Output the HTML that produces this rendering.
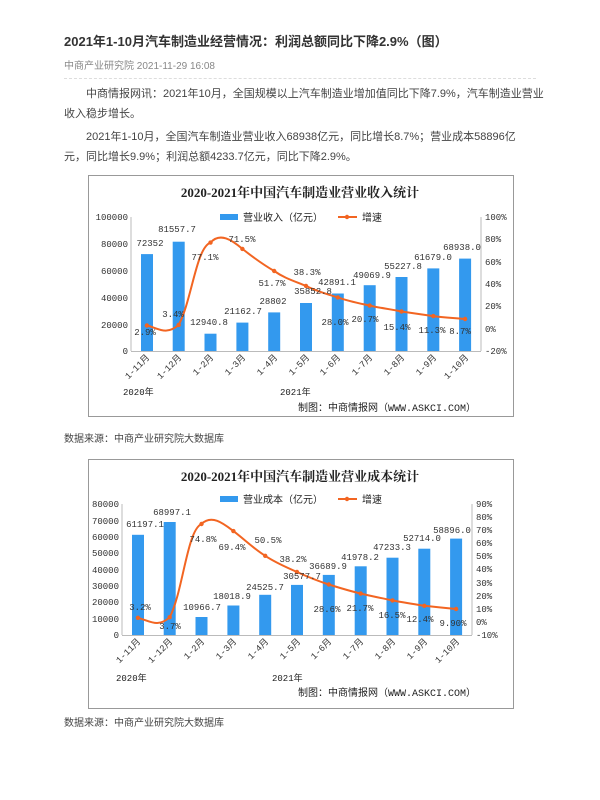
<!DOCTYPE html>
<html><head><meta charset="utf-8"><style>
body{margin:0;width:600px;height:800px;background:#fff;position:relative;overflow:hidden;font-family:"Liberation Sans","Noto Sans CJK SC",sans-serif;}
.a{position:absolute;white-space:nowrap;}
svg text{font-family:"Liberation Mono","Noto Sans CJK SC",monospace;}
</style></head><body>
<div class="a" style="left:64px;top:31px;font-size:13px;font-weight:bold;color:#333;">2021年1-10月汽车制造业经营情况：利润总额同比下降2.9%（图）</div>
<div class="a" style="left:64px;top:57px;font-size:10px;color:#888;">中商产业研究院 2021-11-29 16:08</div>
<div class="a" style="left:64px;top:78px;width:472px;border-top:1px dashed #ddd;"></div>
<div class="a" style="left:64px;top:84px;font-size:11px;color:#444;line-height:20px;">　　中商情报网讯：2021年10月，全国规模以上汽车制造业增加值同比下降7.9%，汽车制造业营业<br>收入稳步增长。</div>
<div class="a" style="left:64px;top:127px;font-size:11px;color:#444;line-height:20px;">　　2021年1-10月，全国汽车制造业营业收入68938亿元，同比增长8.7%；营业成本58896亿<br>元，同比增长9.9%；利润总额4233.7亿元，同比下降2.9%。</div>
<div class="a" style="left:64px;top:430px;font-size:10px;color:#444;">数据来源：中商产业研究院大数据库</div>
<div class="a" style="left:64px;top:714px;font-size:10px;color:#444;">数据来源：中商产业研究院大数据库</div>

<svg class="a" style="left:0;top:0" width="600" height="800">
<!-- chart 1 -->
<rect x="88.5" y="175.5" width="425" height="241" fill="#fff" stroke="#999"/>
<text x="300" y="197" text-anchor="middle" font-size="13" font-weight="bold" style="font-family:'Liberation Serif','Noto Serif CJK SC',serif" fill="#222">2020-2021年中国汽车制造业营业收入统计</text>
<rect x="220" y="214" width="18" height="6" fill="#3399ee"/>
<text x="243" y="221" font-size="10" fill="#222" style="font-family:'Liberation Sans','Noto Sans CJK SC',sans-serif">营业收入（亿元）</text>
<line x1="338" y1="217" x2="357" y2="217" stroke="#f26522" stroke-width="2"/><circle cx="347" cy="217" r="2.2" fill="#f26522"/>
<text x="362" y="221" font-size="10" fill="#222" style="font-family:'Liberation Sans','Noto Sans CJK SC',sans-serif">增速</text>
<g stroke="#bbb" stroke-width="1"><line x1="131" y1="217" x2="131" y2="351"/><line x1="481" y1="217" x2="481" y2="351"/><line x1="131" y1="351.5" x2="481" y2="351.5"/></g>
<g font-size="9" fill="#333" text-anchor="end">
<text x="128" y="220">100000</text><text x="128" y="247">80000</text><text x="128" y="274">60000</text><text x="128" y="301">40000</text><text x="128" y="328">20000</text><text x="128" y="354">0</text></g>
<g font-size="9" fill="#333">
<text x="485" y="220">100%</text><text x="485" y="242">80%</text><text x="485" y="265">60%</text><text x="485" y="287">40%</text><text x="485" y="309">20%</text><text x="485" y="332">0%</text><text x="485" y="354">-20%</text></g>
<g fill="#3399ee">
<rect x="141" y="254.1" width="12" height="96.9"/><rect x="172.7" y="241.7" width="12" height="109.3"/><rect x="204.5" y="333.7" width="12" height="17.3"/><rect x="236.4" y="322.6" width="12" height="28.4"/><rect x="268.2" y="312.4" width="12" height="38.6"/><rect x="300" y="303" width="12" height="48"/><rect x="331.8" y="293.5" width="12" height="57.5"/><rect x="363.7" y="285.2" width="12" height="65.8"/><rect x="395.5" y="277" width="12" height="74"/><rect x="427.3" y="268.4" width="12" height="82.6"/><rect x="459.1" y="258.6" width="12" height="92.4"/></g>
<path d="M146.9,325.5 C158,328 166,336 178.7,324.9 C192,300 196,248 210.5,242.6 C220,232 232,240 242.4,248.9 C254,258 262,264 274.2,271 C284,278 294,281 306,285.9 C316,291 326,294 337.8,297.4 C348,301 358,303 369.7,305.6 C380,308 390,309 401.5,311.5 C412,313 422,314.5 433.3,316.1 C444,317.5 454,318 465.1,319" fill="none" stroke="#f26522" stroke-width="2"/>
<g fill="#f26522"><circle cx="146.9" cy="325.5" r="2.2"/><circle cx="178.7" cy="324.9" r="2.2"/><circle cx="210.5" cy="242.6" r="2.2"/><circle cx="242.4" cy="248.9" r="2.2"/><circle cx="274.2" cy="271" r="2.2"/><circle cx="306" cy="285.9" r="2.2"/><circle cx="337.8" cy="297.4" r="2.2"/><circle cx="369.7" cy="305.6" r="2.2"/><circle cx="401.5" cy="311.5" r="2.2"/><circle cx="433.3" cy="316.1" r="2.2"/><circle cx="465.1" cy="319" r="2.2"/></g>
<g font-size="9" fill="#333" text-anchor="middle">
<text x="150" y="246">72352</text><text x="177" y="232">81557.7</text><text x="209" y="325">12940.8</text><text x="243" y="314">21162.7</text><text x="273" y="304">28802</text><text x="313" y="294">35852.8</text><text x="337" y="285">42891.1</text><text x="372" y="278">49069.9</text><text x="403" y="269">55227.8</text><text x="433" y="260">61679.0</text><text x="462" y="250">68938.0</text>
<text x="145" y="335">2.9%</text><text x="173" y="317">3.4%</text><text x="205" y="260">77.1%</text><text x="242" y="242">71.5%</text><text x="272" y="286">51.7%</text><text x="307" y="275">38.3%</text><text x="335" y="325">28.0%</text><text x="365" y="322">20.7%</text><text x="397" y="330">15.4%</text><text x="432" y="333">11.3%</text><text x="460" y="334">8.7%</text></g>
<g font-size="9" fill="#333" text-anchor="end">
<text transform="translate(150,358) rotate(-45)">1-11月</text><text transform="translate(182,358) rotate(-45)">1-12月</text><text transform="translate(214,358) rotate(-45)">1-2月</text><text transform="translate(246,358) rotate(-45)">1-3月</text><text transform="translate(278,358) rotate(-45)">1-4月</text><text transform="translate(310,358) rotate(-45)">1-5月</text><text transform="translate(341,358) rotate(-45)">1-6月</text><text transform="translate(373,358) rotate(-45)">1-7月</text><text transform="translate(405,358) rotate(-45)">1-8月</text><text transform="translate(437,358) rotate(-45)">1-9月</text><text transform="translate(469,358) rotate(-45)">1-10月</text></g>
<g font-size="9" fill="#222" style="font-family:'Liberation Sans','Noto Sans CJK SC',sans-serif">
<text x="123" y="395">2020年</text><text x="280" y="395">2021年</text><text x="298" y="411" font-size="10">制图：中商情报网（WWW.ASKCI.COM）</text></g>

<!-- chart 2 -->
<rect x="88.5" y="459.5" width="425" height="249" fill="none" stroke="#999"/>
<text x="300" y="481" text-anchor="middle" font-size="13" font-weight="bold" style="font-family:'Liberation Serif','Noto Serif CJK SC',serif" fill="#222">2020-2021年中国汽车制造业营业成本统计</text>
<rect x="220" y="496" width="18" height="6" fill="#3399ee"/>
<text x="243" y="503" font-size="10" fill="#222" style="font-family:'Liberation Sans','Noto Sans CJK SC',sans-serif">营业成本（亿元）</text>
<line x1="338" y1="499" x2="357" y2="499" stroke="#f26522" stroke-width="2"/><circle cx="347" cy="499" r="2.2" fill="#f26522"/>
<text x="362" y="503" font-size="10" fill="#222" style="font-family:'Liberation Sans','Noto Sans CJK SC',sans-serif">增速</text>
<g stroke="#bbb" stroke-width="1"><line x1="122" y1="504" x2="122" y2="635"/><line x1="472" y1="504" x2="472" y2="635"/><line x1="122" y1="635.5" x2="472" y2="635.5"/></g>
<g font-size="9" fill="#333" text-anchor="end">
<text x="119" y="507">80000</text><text x="119" y="524">70000</text><text x="119" y="540">60000</text><text x="119" y="556">50000</text><text x="119" y="573">40000</text><text x="119" y="589">30000</text><text x="119" y="605">20000</text><text x="119" y="622">10000</text><text x="119" y="638">0</text></g>
<g font-size="9" fill="#333">
<text x="476" y="507">90%</text><text x="476" y="520">80%</text><text x="476" y="533">70%</text><text x="476" y="546">60%</text><text x="476" y="559">50%</text><text x="476" y="572">40%</text><text x="476" y="586">30%</text><text x="476" y="599">20%</text><text x="476" y="612">10%</text><text x="476" y="625">0%</text><text x="476" y="638">-10%</text></g>
<g fill="#3399ee">
<rect x="132" y="534.8" width="12" height="100.2"/><rect x="163.7" y="522" width="12" height="113"/><rect x="195.5" y="617" width="12" height="18"/><rect x="227.4" y="605.5" width="12" height="29.5"/><rect x="259.2" y="594.8" width="12" height="40.2"/><rect x="291" y="584.9" width="12" height="50.1"/><rect x="322.8" y="574.9" width="12" height="60.1"/><rect x="354.7" y="566.3" width="12" height="68.7"/><rect x="386.5" y="557.7" width="12" height="77.3"/><rect x="418.3" y="548.7" width="12" height="86.3"/><rect x="450.1" y="538.6" width="12" height="96.4"/></g>
<path d="M137.9,617.8 C150,621 158,628 169.7,617.2 C183,592 187,530 201.5,524 C212,514 224,524 233.4,531.1 C244,539 254,549 265.2,555.8 C276,563 286,567 297,572 C308,577 318,581 328.8,584.5 C340,588 350,591 360.7,593.6 C371,596 381,598 392.5,600.4 C403,602.5 413,604 424.3,605.8 C435,607 445,608 456.1,609" fill="none" stroke="#f26522" stroke-width="2"/>
<g fill="#f26522"><circle cx="137.9" cy="617.8" r="2.2"/><circle cx="169.7" cy="617.2" r="2.2"/><circle cx="201.5" cy="524" r="2.2"/><circle cx="233.4" cy="531.1" r="2.2"/><circle cx="265.2" cy="555.8" r="2.2"/><circle cx="297" cy="572" r="2.2"/><circle cx="328.8" cy="584.5" r="2.2"/><circle cx="360.7" cy="593.6" r="2.2"/><circle cx="392.5" cy="600.4" r="2.2"/><circle cx="424.3" cy="605.8" r="2.2"/><circle cx="456.1" cy="609" r="2.2"/></g>
<g font-size="9" fill="#333" text-anchor="middle">
<text x="145" y="527">61197.1</text><text x="172" y="515">68997.1</text><text x="202" y="610">10966.7</text><text x="232" y="599">18018.9</text><text x="265" y="590">24525.7</text><text x="302" y="579">30577.7</text><text x="328" y="569">36689.9</text><text x="360" y="560">41978.2</text><text x="392" y="550">47233.3</text><text x="422" y="541">52714.0</text><text x="452" y="533">58896.0</text>
<text x="140" y="610">3.2%</text><text x="170" y="629">3.7%</text><text x="203" y="542">74.8%</text><text x="232" y="550">69.4%</text><text x="268" y="543">50.5%</text><text x="293" y="562">38.2%</text><text x="327" y="612">28.6%</text><text x="360" y="611">21.7%</text><text x="392" y="618">16.5%</text><text x="420" y="622">12.4%</text><text x="453" y="626">9.90%</text></g>
<g font-size="9" fill="#333" text-anchor="end">
<text transform="translate(141,642) rotate(-45)">1-11月</text><text transform="translate(173,642) rotate(-45)">1-12月</text><text transform="translate(205,642) rotate(-45)">1-2月</text><text transform="translate(237,642) rotate(-45)">1-3月</text><text transform="translate(269,642) rotate(-45)">1-4月</text><text transform="translate(301,642) rotate(-45)">1-5月</text><text transform="translate(332,642) rotate(-45)">1-6月</text><text transform="translate(364,642) rotate(-45)">1-7月</text><text transform="translate(396,642) rotate(-45)">1-8月</text><text transform="translate(428,642) rotate(-45)">1-9月</text><text transform="translate(460,642) rotate(-45)">1-10月</text></g>
<g font-size="9" fill="#222" style="font-family:'Liberation Sans','Noto Sans CJK SC',sans-serif">
<text x="116" y="681">2020年</text><text x="272" y="681">2021年</text><text x="298" y="696" font-size="10">制图：中商情报网（WWW.ASKCI.COM）</text></g>
</svg>
</body></html>
